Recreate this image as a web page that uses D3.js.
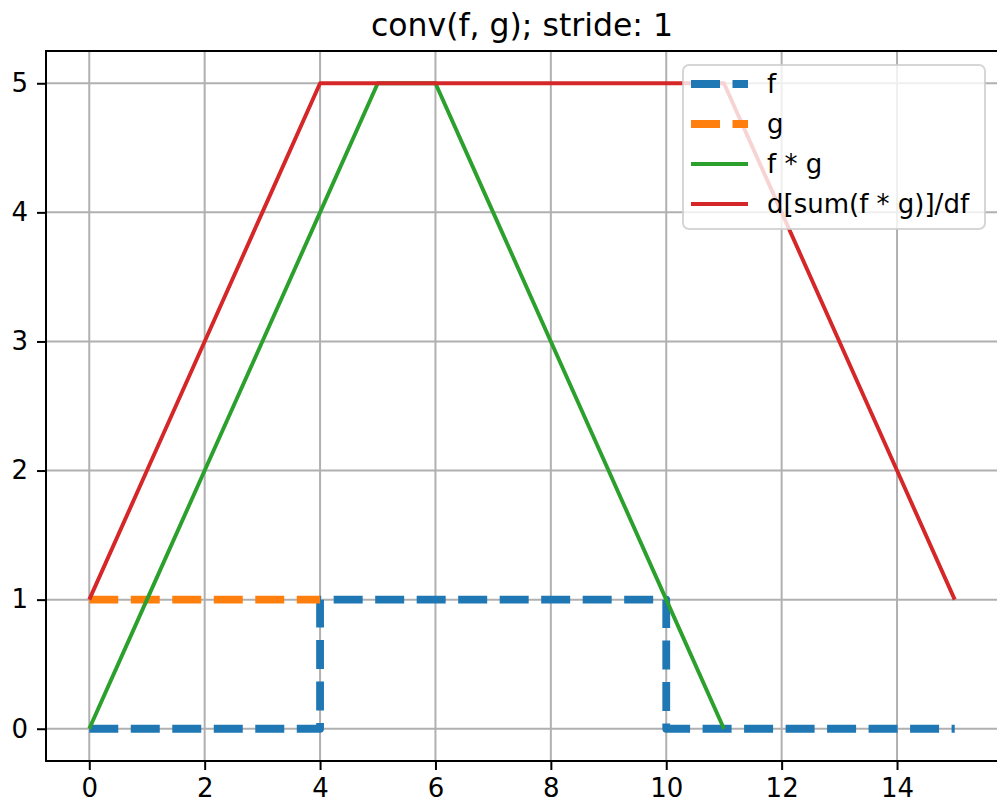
<!DOCTYPE html>
<html>
<head>
<meta charset="utf-8">
<script src="https://cdn.jsdelivr.net/npm/d3@7"></script>
<style>
  body { margin: 0; background: #fff; }
  text { font-family: "DejaVu Sans", sans-serif; }
</style>
</head>
<body>
<div id="chart"></div>
<script>
// Data
const fX = [0, 4, 4, 10, 10, 15];
const fY = [0, 0, 1, 1, 0, 0];
const gX = [0, 4];
const gY = [1, 1];
const convX = [0, 1, 2, 3, 4, 5, 6, 7, 8, 9, 10, 11];
const convY = [0, 1, 2, 3, 4, 5, 5, 4, 3, 2, 1, 0];
const gradX = [0, 1, 2, 3, 4, 5, 6, 7, 8, 9, 10, 11, 12, 13, 14, 15];
const gradY = [1, 2, 3, 4, 5, 5, 5, 5, 5, 5, 5, 5, 4, 3, 2, 1];
const xTicks = [0, 2, 4, 6, 8, 10, 12, 14];
const yTicks = [0, 1, 2, 3, 4, 5];

const W = 997, H = 808;
const margin = { top: 51, right: -1, bottom: 47, left: 46 };
const width = W - margin.left - margin.right;
const height = H - margin.top - margin.bottom;
const fontSize = 26;

const svg = d3.select("#chart")
  .append("svg")
  .attr("width", W)
  .attr("height", H);

const g = svg.append("g")
  .attr("transform", `translate(${margin.left},${margin.top})`);

const x = d3.scaleLinear().domain([-0.75, 15.75]).range([0, width]);
const y = d3.scaleLinear().domain([-0.25, 5.25]).range([height, 0]);

// Grid
g.append("g")
  .selectAll("line")
  .data(xTicks)
  .enter()
  .append("line")
  .attr("x1", d => x(d)).attr("x2", d => x(d))
  .attr("y1", 0).attr("y2", height)
  .attr("stroke", "#b0b0b0").attr("stroke-width", 2);

g.append("g")
  .selectAll("line")
  .data(yTicks)
  .enter()
  .append("line")
  .attr("x1", 0).attr("x2", width)
  .attr("y1", d => y(d)).attr("y2", d => y(d))
  .attr("stroke", "#b0b0b0").attr("stroke-width", 2);

// Series
const series = [
  { name: "f", xs: fX, ys: fY, color: "#1f77b4", width: 7.8, dash: "29 12.5" },
  { name: "g", xs: gX, ys: gY, color: "#ff7f0e", width: 7.8, dash: "29 12.5" },
  { name: "f * g", xs: convX, ys: convY, color: "#2ca02c", width: 3.9, dash: null },
  { name: "d[sum(f * g)]/df", xs: gradX, ys: gradY, color: "#d62728", width: 3.9, dash: null }
];

const line = d3.line().x(d => x(d[0])).y(d => y(d[1]));

series.forEach(s => {
  g.append("path")
    .datum(s.xs.map((v, i) => [v, s.ys[i]]))
    .attr("d", line)
    .attr("fill", "none")
    .attr("stroke", s.color)
    .attr("stroke-width", s.width)
    .attr("stroke-dasharray", s.dash)
    .attr("stroke-linejoin", "round");
});

// Axes
const xAxis = g.append("g")
  .attr("transform", `translate(0,${height})`)
  .call(d3.axisBottom(x).tickValues(xTicks).tickFormat(d3.format("d")).tickSize(9).tickPadding(9));
const yAxis = g.append("g")
  .call(d3.axisLeft(y).tickValues(yTicks).tickFormat(d3.format("d")).tickSize(9).tickPadding(9));

[xAxis, yAxis].forEach(a => {
  a.attr("font-size", null).attr("font-family", null);
  a.selectAll("text").style("font-size", fontSize + "px").attr("fill", "#000");
  a.selectAll("line").attr("stroke", "#000").attr("stroke-width", 2);
  a.select(".domain").remove();
});

// Spines
g.append("rect")
  .attr("width", width)
  .attr("height", height)
  .attr("fill", "none")
  .attr("stroke", "#000")
  .attr("stroke-width", 2);

// Title
svg.append("text")
  .attr("x", margin.left + width / 2)
  .attr("y", 36)
  .attr("text-anchor", "middle")
  .style("font-size", "31.5px")
  .text("conv(f, g); stride: 1");

// Legend
const legend = svg.append("g").attr("transform", "translate(683,65)");
legend.append("rect")
  .attr("width", 302)
  .attr("height", 164)
  .attr("rx", 6)
  .attr("fill", "#fff")
  .attr("fill-opacity", 0.8)
  .attr("stroke", "#cccccc")
  .attr("stroke-opacity", 0.8)
  .attr("stroke-width", 2);

series.forEach((s, i) => {
  const yy = 19 + i * 40;
  legend.append("line")
    .attr("x1", 8).attr("x2", 65)
    .attr("y1", yy).attr("y2", yy)
    .attr("stroke", s.color)
    .attr("stroke-width", s.width)
    .attr("stroke-dasharray", s.dash);
  legend.append("text")
    .attr("x", 84)
    .attr("y", yy + 9)
    .style("font-size", fontSize + "px")
    .text(s.name);
});
</script>
</body>
</html>
